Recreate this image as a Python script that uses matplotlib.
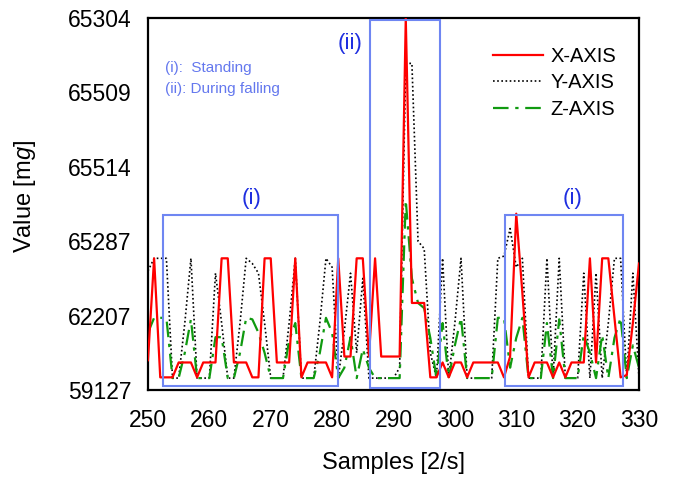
import matplotlib
matplotlib.use("Agg")
import matplotlib.pyplot as plt
from matplotlib.patches import Rectangle
import numpy as np

plt.rcParams['font.family'] = ['Liberation Sans', 'DejaVu Sans']
plt.rcParams['mathtext.fontset'] = 'custom'
plt.rcParams['mathtext.it'] = 'Liberation Sans:italic'
plt.rcParams['mathtext.rm'] = 'Liberation Sans'

samples = list(range(250, 331))

x_axis = [0.40, 1.77, 0.17, 0.17, 0.17, 0.37, 0.37, 0.37, 0.17, 0.37,
          0.37, 0.37, 1.77, 1.77, 0.37, 0.37, 0.37, 0.17, 0.17, 1.77,
          1.77, 0.37, 0.37, 0.37, 1.77, 0.17, 0.37, 0.37, 0.37, 0.37,
          0.17, 1.77, 0.45, 0.45, 1.77, 1.77, 0.45, 1.77, 0.45, 0.45,
          0.45, 0.45, 5.00, 1.17, 1.17, 1.17, 0.17, 0.17, 0.37, 0.17,
          0.37, 0.37, 0.17, 0.37, 0.37, 0.37, 0.37, 0.37, 0.17, 0.45,
          2.37, 1.30, 0.17, 0.37, 0.37, 0.37, 0.17, 0.37, 0.17, 0.37,
          0.37, 0.37, 1.77, 0.37, 1.77, 1.77, 0.97, 0.17, 0.20, 0.90,
          1.70]

y_axis = [1.60, 1.77, 1.77, 1.77, 0.16, 0.16, 0.90, 1.77, 0.16, 0.16,
          0.16, 1.57, 0.90, 0.16, 0.16, 0.90, 1.77, 1.70, 1.57, 0.90,
          0.16, 0.16, 0.16, 0.90, 1.77, 0.16, 0.16, 0.16, 0.90, 1.77,
          1.65, 0.16, 0.80, 1.57, 0.50, 1.50, 0.16, 0.16, 0.16, 0.16,
          0.16, 0.30, 4.39, 4.39, 2.00, 1.90, 0.50, 0.16, 1.77, 0.16,
          0.90, 1.77, 0.16, 0.16, 0.16, 0.16, 0.16, 1.77, 1.80, 2.17,
          1.65, 1.77, 0.16, 0.16, 0.16, 1.77, 0.16, 1.77, 0.16, 0.16,
          0.16, 1.57, 0.16, 1.57, 0.16, 0.90, 1.77, 1.77, 0.16, 1.57,
          0.16]

z_axis = [0.77, 0.97, 0.97, 0.97, 0.16, 0.16, 0.50, 0.95, 0.16, 0.16,
          0.16, 0.71, 0.71, 0.16, 0.16, 0.50, 0.97, 0.95, 0.77, 0.50,
          0.16, 0.16, 0.16, 0.67, 0.90, 0.16, 0.16, 0.16, 0.50, 0.97,
          0.77, 0.16, 0.30, 0.71, 0.16, 0.55, 0.30, 0.16, 0.16, 0.16,
          0.16, 0.16, 2.55, 1.50, 1.17, 1.10, 0.70, 0.16, 0.90, 0.16,
          0.60, 0.97, 0.16, 0.16, 0.16, 0.16, 0.16, 0.97, 0.97, 0.30,
          0.70, 0.97, 0.16, 0.16, 0.16, 0.90, 0.16, 0.95, 0.16, 0.16,
          0.16, 0.74, 0.50, 0.16, 0.74, 0.16, 0.70, 0.97, 0.16, 0.60,
          0.30]

y_tick_labels = ['59127', '62207', '65287', '65514', '65509', '65304']
x_ticks = [250, 260, 270, 280, 290, 300, 310, 320, 330]

# boxes: (x0, x1, y0, y1) in data units
box_i_left = (252.5, 280.9, 0.06, 2.35)
box_ii = (286.2, 297.6, 0.03, 4.97)
box_i_right = (308.1, 327.4, 0.05, 2.35)

fig = plt.figure(figsize=(6.86, 4.79), dpi=100)
ax = fig.add_axes([0.2157, 0.1858, 0.7158, 0.7766])

ax.plot(samples, x_axis, color='#ff0000', lw=1.6, label='X-AXIS', zorder=3)
ax.plot(samples, y_axis, color='black', lw=1.2, ls=(0, (1, 1.5)), label='Y-AXIS', zorder=2)
ax.plot(samples, z_axis, color='#109a10', lw=1.6, ls=(0, (7, 3, 1.5, 3)), label='Z-AXIS', zorder=2)

box_color = '#6f86f2'
for (x0, x1, y0, y1) in [box_i_left, box_ii, box_i_right]:
    ax.add_patch(Rectangle((x0, y0), x1 - x0, y1 - y0, fill=False,
                           edgecolor=box_color, lw=1.5, zorder=4))

ax.text(266.9, 2.58, '(i)', color='#1f2fe0', fontsize=16, ha='center', va='center')
ax.text(319.2, 2.58, '(i)', color='#1f2fe0', fontsize=16, ha='center', va='center')
ax.text(282.9, 4.66, '(ii)', color='#1f2fe0', fontsize=16, ha='center', va='center')

ax.text(252.7, 4.33, '(i):  Standing', color='#6478ee', fontsize=11, ha='left', va='center')
ax.text(252.7, 4.05, '(ii): During falling', color='#6478ee', fontsize=11, ha='left', va='center')

ax.set_xlim(250, 330)
ax.set_ylim(0, 5)
ax.set_xticks(x_ticks)
ax.set_yticks(range(len(y_tick_labels)))
ax.set_yticklabels(y_tick_labels)
ax.tick_params(axis='both', length=0, labelsize=16.5)
ax.tick_params(axis='x', pad=14)
ax.tick_params(axis='y', pad=12)

ax.set_xlabel('Samples [2/s]', fontsize=17, va='center')
ax.xaxis.set_label_coords(0.5, -0.196)
ax.set_ylabel(r'Value [m$\it{g}$]', fontsize=17, va='center')
ax.yaxis.set_label_coords(-0.25, 0.52)

for s in ax.spines.values():
    s.set_linewidth(1.6)
    s.set_color('black')

leg = ax.legend(loc='upper right', bbox_to_anchor=(0.99, 0.972), frameon=False,
                fontsize=14.5, handlelength=2.5, labelspacing=0.38, handletextpad=0.35)

fig.savefig('out.png', dpi=100)
